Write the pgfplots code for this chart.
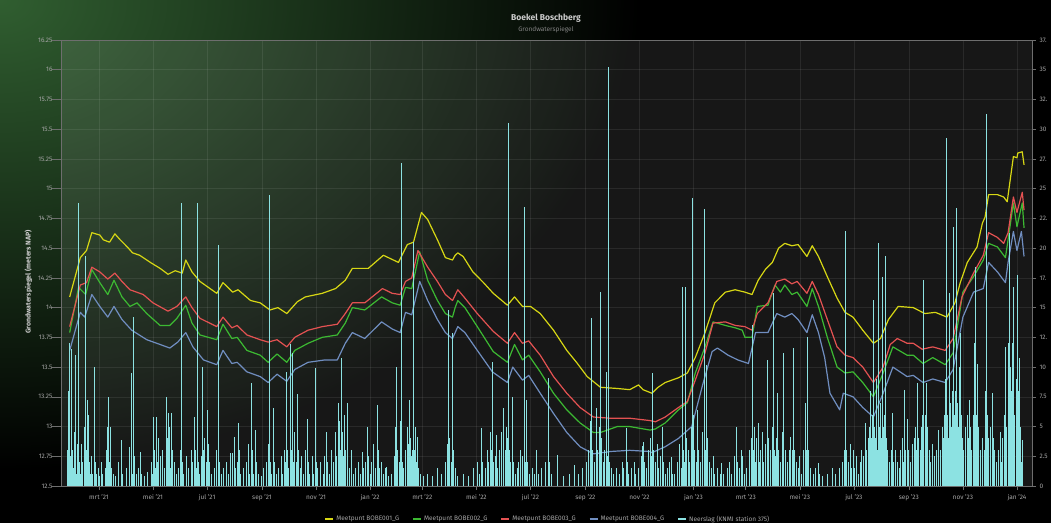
\documentclass[border=0pt]{standalone}
\usepackage{pgfplots}
\pgfplotsset{compat=1.18}
\usepackage{pgfplotstable}
\usepackage{fontspec}
\setmainfont{Fira Sans}
\definecolor{ycol}{RGB}{215,215,20}
\definecolor{gcol}{RGB}{60,185,50}
\definecolor{rcol}{RGB}{228,82,82}
\definecolor{bcol}{RGB}{112,142,192}
\definecolor{ccol}{RGB}{140,226,226}
\definecolor{tickgray}{RGB}{165,165,165}
\definecolor{axisgray}{RGB}{110,110,110}
\definecolor{titlegray}{RGB}{205,205,205}
\definecolor{subgray}{RGB}{130,130,130}
\definecolor{glow}{RGB}{48,94,48}

\pgfplotstableread{
d mm
24 3.0
25 8.0
26 12.0
27 2.5
28 11.5
29 3.0
30 1.5
31 4.5
32 11.0
33 2.0
34 1.0
35 3.5
36 23.8
37 2.0
38 1.0
39 3.5
40 2.0
41 1.0
43 5.0
44 19.3
45 3.0
46 7.2
47 6.0
48 2.0
49 1.0
51 2.5
52 1.0
54 10.0
55 2.0
56 1.0
58 1.5
60 0.8
62 2.0
63 1.0
66 1.5
68 3.0
69 5.0
70 7.5
71 2.0
72 5.0
73 1.5
75 1.0
78 0.8
81 2.0
84 3.9
85 1.5
86 1.0
90 1.5
93 3.3
94 2.0
96 9.5
97 1.0
98 14.2
99 2.5
101 1.0
104 1.5
106 2.9
107 1.0
110 0.8
114 1.2
118 2.0
119 1.0
121 5.8
122 3.0
123 1.5
124 5.8
125 2.0
126 4.0
128 2.5
129 1.0
131 3.0
133 1.5
135 7.5
136 4.0
137 6.1
138 2.5
139 5.0
140 1.5
141 6.1
142 3.0
144 2.0
146 1.0
149 1.5
151 3.0
152 23.8
153 2.0
155 1.0
158 2.5
160 1.5
163 3.0
165 2.0
167 5.8
168 3.0
169 1.5
170 23.8
171 2.0
173 1.0
175 2.5
176 10.0
177 3.0
178 4.0
180 2.0
182 6.4
183 3.5
184 2.0
186 1.0
189 1.5
192 3.0
194 20.3
195 2.0
197 1.0
200 1.5
203 2.0
205 1.0
207 2.8
208 1.5
210 2.8
212 4.1
213 1.5
215 2.0
217 5.3
218 3.0
219 1.0
222 1.5
225 2.0
228 3.5
229 1.0
231 8.7
232 3.0
233 1.0
236 4.7
237 2.0
239 1.0
242 0.8
245 1.5
248 2.0
250 3.5
251 1.0
252 24.5
253 2.0
254 1.0
256 6.6
257 2.0
259 1.0
262 1.5
265 2.5
266 1.0
268 3.0
270 2.0
271 9.6
272 3.0
273 1.5
275 11.9
276 3.0
278 11.2
279 2.0
280 4.5
282 2.0
283 7.7
284 3.0
286 1.5
288 2.5
290 1.0
292 3.0
294 5.6
295 2.0
297 1.0
300 2.5
301 1.0
303 9.9
304 2.0
306 1.5
309 2.0
312 1.0
314 2.5
316 4.5
317 2.0
319 1.0
321 3.0
322 1.5
324 2.0
326 4.5
327 2.5
329 7.0
330 4.0
331 5.5
332 3.0
333 10.8
334 4.5
335 2.5
336 6.0
337 3.0
339 7.0
340 2.0
342 1.5
344 3.0
346 1.0
349 1.5
352 2.0
354 1.0
357 2.9
358 1.5
360 2.0
362 5.0
363 2.5
365 1.0
367 2.0
369 3.5
371 1.5
373 6.8
374 3.0
376 1.5
378 2.0
380 1.0
382 1.5
384 1.6
386 0.8
389 1.0
392 2.5
394 5.0
395 10.0
396 3.0
398 2.0
399 5.5
400 3.0
401 27.2
402 2.0
403 1.5
405 3.0
407 5.0
408 3.5
410 7.2
411 4.0
412 2.5
413 3.0
414 20.5
415 3.0
416 5.0
417 2.0
419 4.1
420 1.5
422 1.0
425 0.8
430 1.0
436 0.8
441 1.5
446 1.0
450 2.0
452 3.5
454 14.8
455 4.0
457 2.0
458 12.9
459 3.0
461 1.5
464 0.8
470 1.0
476 0.8
482 1.5
486 2.0
489 1.0
491 4.9
492 2.0
495 1.5
497 3.0
499 2.0
501 4.5
502 3.0
503 10.4
504 2.0
506 2.5
508 4.3
509 1.5
511 3.0
513 4.5
515 6.6
516 2.5
518 3.0
519 5.0
520 4.0
521 30.5
522 3.0
524 2.0
526 7.5
527 2.0
529 1.0
531 1.5
533 2.0
535 3.0
537 2.5
539 23.5
540 2.0
542 7.2
543 2.0
545 1.0
548 1.5
551 1.0
553 3.0
555 1.0
559 1.5
563 2.0
566 9.1
567 2.0
570 1.0
576 2.6
577 1.0
583 0.8
590 1.0
596 1.8
600 1.0
605 1.5
609 2.0
612 3.0
614 5.5
615 14.1
616 3.0
618 2.0
620 4.0
621 6.6
622 3.0
624 5.0
625 16.3
626 4.0
628 2.0
630 3.0
632 9.6
633 2.5
634 35.2
635 2.0
637 1.5
640 1.0
643 1.5
646 1.0
650 2.0
651 1.5
654 4.9
655 2.0
657 1.0
660 1.5
663 2.0
665 1.0
668 1.5
671 2.5
672 3.4
673 1.5
674 3.7
675 2.0
677 1.5
679 3.0
681 4.0
683 2.5
684 9.5
685 3.0
687 2.0
689 3.5
691 1.5
693 2.5
695 5.0
696 2.0
698 1.0
701 1.5
703 2.0
705 2.4
706 1.0
709 1.0
712 2.0
714 3.5
716 1.5
718 16.7
719 3.0
720 2.0
721 16.7
722 4.0
724 3.0
726 2.0
728 5.0
729 24.2
730 6.0
731 3.0
733 2.0
735 6.4
736 3.0
738 2.0
740 4.5
742 23.3
743 3.0
745 10.2
746 4.0
748 2.0
750 1.5
752 2.5
754 1.0
757 1.5
760 1.0
762 1.9
764 1.0
768 1.5
771 2.0
773 1.0
776 2.5
778 3.0
779 5.0
780 2.0
782 1.5
784 3.0
785 2.5
787 1.0
790 1.5
793 3.0
795 4.0
797 13.5
798 3.0
799 5.0
800 2.0
801 4.0
803 5.3
804 2.0
806 3.0
808 4.5
809 2.0
811 3.5
813 6.0
814 10.6
815 4.0
817 3.0
819 5.0
820 16.2
821 3.0
823 2.5
824 4.0
825 7.8
826 3.0
828 2.0
830 4.5
831 11.2
832 4.0
834 3.0
836 2.0
838 3.0
839 4.1
840 2.0
842 3.0
843 11.6
844 3.0
846 2.0
848 1.5
850 2.5
852 1.0
854 3.0
856 7.0
857 3.0
859 12.5
860 3.0
862 1.5
865 1.0
868 1.5
871 1.9
872 1.0
876 0.8
881 1.0
887 1.5
890 1.0
895 1.5
898 2.0
900 3.0
902 21.4
903 3.0
905 2.0
907 3.5
908 1.5
910 3.0
912 1.5
914 2.5
916 1.0
918 2.0
920 3.0
922 2.5
924 5.3
925 3.0
927 4.0
929 5.0
930 8.0
931 4.0
932 6.0
933 15.6
934 5.0
935 4.0
936 9.0
937 6.0
938 3.0
939 20.4
940 5.0
941 7.0
942 4.0
943 17.6
944 5.0
945 3.0
946 6.0
947 19.3
948 4.0
949 3.0
951 2.0
953 3.0
954 6.1
955 4.0
956 2.0
958 3.0
960 2.0
962 1.5
964 3.0
966 4.0
967 2.0
968 8.1
969 3.0
971 4.0
972 5.6
973 3.0
975 2.0
977 3.5
979 4.0
981 5.0
982 3.0
983 8.7
984 4.0
986 3.0
987 5.0
988 6.0
989 17.3
990 4.0
992 6.0
993 8.7
994 5.0
996 3.0
998 2.0
1000 3.5
1002 2.5
1004 3.0
1006 4.7
1007 2.0
1009 3.0
1011 5.0
1012 4.0
1013 6.0
1014 9.0
1015 5.0
1016 29.3
1017 6.0
1018 4.0
1019 16.2
1020 7.0
1021 5.0
1022 8.0
1023 21.8
1024 6.0
1025 4.0
1026 8.0
1027 23.4
1028 7.0
1029 5.0
1030 10.0
1031 12.9
1032 6.0
1034 4.0
1035 3.0
1037 5.0
1039 6.0
1040 4.0
1042 7.2
1043 5.0
1044 3.0
1046 6.0
1047 12.0
1048 18.4
1049 6.0
1050 4.0
1051 10.3
1052 5.0
1054 3.0
1056 4.0
1058 3.0
1059 5.0
1060 8.0
1061 31.3
1062 6.0
1063 4.0
1065 5.0
1067 7.8
1068 4.0
1070 3.0
1072 2.0
1074 3.0
1076 4.5
1077 2.0
1079 4.0
1081 6.0
1082 11.7
1083 5.0
1085 8.0
1086 12.0
1087 21.3
1088 10.0
1089 8.0
1090 12.0
1091 16.7
1092 6.0
1094 5.0
1095 9.0
1096 17.7
1097 8.0
1098 10.8
1099 5.0
1100 2.0
1101 3.9
}\raintable

\begin{document}
\begin{tikzpicture}
\useasboundingbox (0,0) rectangle (1051pt,523pt);
\begin{scope}
\clip (0,0) rectangle (1051pt,523pt);
\fill[black] (0,0) rectangle (1051pt,523pt);
\shade[inner color=glow, outer color=black] (0pt,523pt) ellipse [x radius=640pt, y radius=470pt];
\end{scope}

\node[text=titlegray, font=\bfseries\fontsize{8.5}{10}\selectfont] at (546pt,505pt) {Boekel Boschberg};
\node[text=subgray, font=\fontsize{6.5}{8}\selectfont] at (546pt,493pt) {Grondwaterspiegel};
\node[rotate=90, text=titlegray, font=\bfseries\fontsize{7}{8}\selectfont] at (28.5pt,241pt) {Grondwaterspiegel (meters NAP)};

\begin{axis}[
  at={(61pt,37pt)}, anchor=south west, scale only axis,
  width=971pt, height=446pt,
  xmin=16.2, xmax=1112, ymin=12.5, ymax=16.25,
  xtick={59,120,181,243,304,365,424,485,546,608,669,730,789,850,911,973,1034,1095},
  xticklabels={mrt '21,mei '21,jul '21,sep '21,nov '21,jan '22,mrt '22,mei '22,jul '22,sep '22,nov '22,jan '23,mrt '23,mei '23,jul '23,sep '23,nov '23,jan '24},
  ytick={12.5,12.75,13,13.25,13.5,13.75,14,14.25,14.5,14.75,15,15.25,15.5,15.75,16,16.25},
  yticklabels={12.5,12.75,13,13.25,13.5,13.75,14,14.25,14.5,14.75,15,15.25,15.5,15.75,16,16.25},
  xtick pos=left, ytick pos=left,
  tick align=outside,
  major tick length=4pt,
  y tick style={/pgfplots/major tick length=9pt},
  tick style={axisgray, line width=0.6pt},
  axis line style={axisgray, line width=0.8pt},
  grid=major,
  major grid style={white, opacity=0.08, line width=0.6pt},
  axis background/.style={fill=white, fill opacity=0.09},
  ticklabel style={font=\fontsize{6.5}{8}\selectfont, text=tickgray},
  yticklabel style={xshift=-1pt},
  xticklabel style={yshift=-1pt},
  legend columns=5,
  legend style={at={(0.5015,-0.074)}, anchor=center, draw=none, fill=none,
    font=\fontsize{6.5}{8}\selectfont, text=tickgray,
    /tikz/every even column/.append style={column sep=11pt}},
  legend image code/.code={\draw[#1, line width=1.8pt] (0pt,0pt) -- (8pt,0pt);},
  every axis plot/.append style={line width=1.2pt, line join=round},
]
\addplot[ycol] coordinates {(26,14.09) (38,14.42) (45,14.48) (51,14.63) (60,14.61) (64,14.57) (71,14.55) (77,14.62) (83,14.57) (91,14.51) (97,14.46) (105,14.44) (117,14.38) (128,14.33) (137,14.28) (145,14.31) (153,14.29) (157,14.40) (164,14.30) (173,14.22) (192,14.12) (199,14.21) (210,14.13) (216,14.15) (230,14.06) (241,14.04) (252,13.98) (261,14.00) (271,13.95) (283,14.05) (292,14.09) (311,14.12) (326,14.16) (337,14.23) (345,14.33) (363,14.33) (380,14.44) (397,14.38) (407,14.53) (414,14.55) (423,14.80) (430,14.74) (441,14.57) (450,14.42) (458,14.40) (461,14.44) (464,14.46) (470,14.43) (481,14.30) (493,14.21) (504,14.12) (520,14.02) (528,14.09) (537,14.01) (546,14.01) (557,13.95) (572,13.81) (587,13.64) (599,13.53) (610,13.42) (625,13.33) (644,13.32) (658,13.31) (668,13.35) (673,13.31) (683,13.28) (690,13.33) (698,13.37) (713,13.41) (723,13.45) (732,13.58) (743,13.79) (754,14.04) (766,14.13) (777,14.15) (788,14.13) (796,14.11) (803,14.23) (811,14.32) (819,14.38) (826,14.50) (833,14.54) (841,14.52) (848,14.53) (858,14.43) (864,14.52) (871,14.43) (881,14.26) (892,14.08) (901,13.96) (910,13.92) (921,13.81) (933,13.70) (941,13.74) (950,13.90) (961,14.01) (978,14.00) (991,13.95) (1003,13.96) (1016,13.92) (1025,14.04) (1031,14.21) (1039,14.38) (1050,14.51) (1056,14.71) (1059,14.76) (1063,14.95) (1073,14.95) (1080,14.93) (1084,14.89) (1091,15.27) (1095,15.26) (1096,15.30) (1101,15.31) (1103,15.20)};
\addlegendentry{Meetpunt BOBE001\_G}
\addplot[gcol] coordinates {(26,13.79) (36,14.17) (44,14.11) (51,14.32) (60,14.21) (69,14.11) (76,14.23) (85,14.09) (94,14.01) (102,14.04) (113,13.95) (128,13.85) (139,13.85) (147,13.91) (157,14.02) (164,13.87) (173,13.77) (192,13.73) (199,13.86) (209,13.74) (215,13.75) (226,13.64) (241,13.60) (250,13.54) (260,13.61) (271,13.54) (280,13.64) (295,13.70) (311,13.75) (328,13.77) (337,13.87) (345,14.00) (359,13.98) (378,14.09) (390,14.04) (399,14.02) (405,14.17) (412,14.16) (421,14.47) (430,14.23) (441,14.06) (450,13.95) (458,13.92) (461,14.00) (464,14.06) (472,14.00) (486,13.84) (504,13.63) (520,13.54) (528,13.69) (537,13.56) (544,13.60) (557,13.46) (572,13.28) (587,13.14) (602,13.03) (617,12.95) (625,12.95) (644,13.00) (658,13.00) (681,12.97) (687,12.98) (698,13.03) (713,13.14) (723,13.20) (732,13.45) (743,13.67) (752,13.88) (766,13.85) (777,13.83) (785,13.81) (788,13.75) (796,13.75) (802,14.01) (814,14.02) (822,14.19) (828,14.13) (833,14.19) (841,14.11) (847,14.13) (858,14.01) (864,14.16) (871,14.01) (881,13.75) (892,13.50) (901,13.45) (910,13.46) (921,13.37) (933,13.25) (944,13.45) (955,13.67) (971,13.60) (978,13.60) (989,13.53) (1000,13.58) (1014,13.52) (1023,13.62) (1034,14.13) (1046,14.26) (1057,14.40) (1063,14.54) (1073,14.51) (1082,14.42) (1085,14.57) (1091,14.88) (1095,14.68) (1101,14.88) (1103,14.67)};
\addlegendentry{Meetpunt BOBE002\_G}
\addplot[rcol] coordinates {(26,13.84) (38,14.19) (45,14.21) (51,14.34) (60,14.30) (69,14.24) (77,14.29) (85,14.22) (94,14.15) (109,14.11) (120,14.04) (137,13.97) (147,14.01) (157,14.09) (164,14.00) (173,13.91) (192,13.84) (199,13.92) (209,13.83) (215,13.85) (226,13.77) (241,13.73) (250,13.71) (260,13.73) (271,13.67) (280,13.75) (295,13.81) (311,13.84) (328,13.86) (337,13.95) (345,14.04) (359,14.04) (379,14.16) (390,14.12) (399,14.11) (405,14.22) (412,14.25) (419,14.48) (430,14.34) (441,14.22) (450,14.11) (458,14.06) (464,14.15) (472,14.08) (486,13.95) (504,13.80) (520,13.70) (528,13.79) (537,13.70) (544,13.72) (557,13.60) (572,13.42) (587,13.28) (602,13.16) (617,13.08) (636,13.07) (658,13.07) (681,13.05) (687,13.04) (698,13.08) (713,13.16) (723,13.21) (732,13.39) (743,13.62) (752,13.87) (766,13.88) (777,13.85) (788,13.84) (796,13.81) (802,13.95) (814,14.04) (824,14.22) (833,14.24) (841,14.20) (847,14.22) (858,14.12) (864,14.22) (871,14.11) (881,13.90) (892,13.67) (901,13.60) (910,13.58) (921,13.50) (933,13.37) (944,13.50) (952,13.69) (960,13.74) (971,13.70) (978,13.70) (988,13.65) (1000,13.67) (1014,13.64) (1023,13.74) (1033,14.09) (1046,14.29) (1057,14.44) (1063,14.63) (1073,14.59) (1080,14.54) (1085,14.63) (1091,14.93) (1095,14.80) (1101,14.97) (1103,14.82)};
\addlegendentry{Meetpunt BOBE003\_G}
\addplot[bcol] coordinates {(26,13.64) (38,13.96) (43,13.92) (51,14.11) (60,14.01) (69,13.92) (76,14.01) (85,13.90) (96,13.81) (113,13.73) (128,13.69) (139,13.66) (148,13.71) (157,13.79) (165,13.67) (177,13.56) (192,13.52) (199,13.64) (209,13.53) (215,13.54) (226,13.46) (241,13.42) (250,13.37) (260,13.44) (271,13.38) (280,13.48) (295,13.54) (314,13.56) (328,13.56) (337,13.70) (345,13.79) (359,13.74) (378,13.88) (390,13.82) (399,13.79) (405,13.96) (412,13.94) (421,14.22) (430,14.06) (441,13.90) (450,13.79) (458,13.74) (461,13.79) (464,13.84) (472,13.79) (486,13.64) (503,13.46) (520,13.37) (526,13.50) (537,13.39) (544,13.43) (557,13.28) (572,13.11) (587,12.95) (602,12.83) (617,12.77) (636,12.79) (658,12.80) (681,12.79) (683,12.78) (698,12.83) (713,12.90) (728,13.00) (741,13.37) (751,13.63) (757,13.66) (769,13.60) (780,13.56) (792,13.53) (800,13.79) (814,13.79) (824,13.95) (833,13.92) (841,13.95) (848,13.90) (858,13.79) (864,13.94) (871,13.79) (878,13.58) (884,13.28) (895,13.14) (899,13.28) (910,13.25) (921,13.16) (933,13.08) (944,13.28) (955,13.50) (971,13.42) (978,13.43) (989,13.37) (1000,13.40) (1014,13.37) (1023,13.48) (1034,13.92) (1046,14.13) (1057,14.16) (1063,14.38) (1073,14.30) (1082,14.21) (1085,14.38) (1091,14.64) (1095,14.48) (1100,14.64) (1103,14.43)};
\addlegendentry{Meetpunt BOBE004\_G}
\addlegendimage{ccol}
\addlegendentry{Neerslag (KNMI station 375)}
\end{axis}

\begin{axis}[
  at={(61pt,37pt)}, anchor=south west, scale only axis,
  width=971pt, height=446pt,
  xmin=16.2, xmax=1112, ymin=0, ymax=37.5,
  axis x line=none, axis y line*=right,
  ytick={0,2.5,5,7.5,10,12.5,15,17.5,20,22.5,25,27.5,30,32.5,35,37.5},
  yticklabels={0,2.5,5,7.5,10,12.,15,17.,20,22.,25,27.,30,32.,35,37.},
  tick align=outside, major tick length=4pt,
  tick style={axisgray, line width=0.6pt},
  axis line style={axisgray, line width=0.8pt},
  ticklabel style={font=\fontsize{6.5}{8}\selectfont, text=tickgray},
  yticklabel style={xshift=0pt},
]
\addplot[ycomb, ccol, line width=1pt] table[x=d, y=mm] {\raintable};
\end{axis}
\end{tikzpicture}
\end{document}
